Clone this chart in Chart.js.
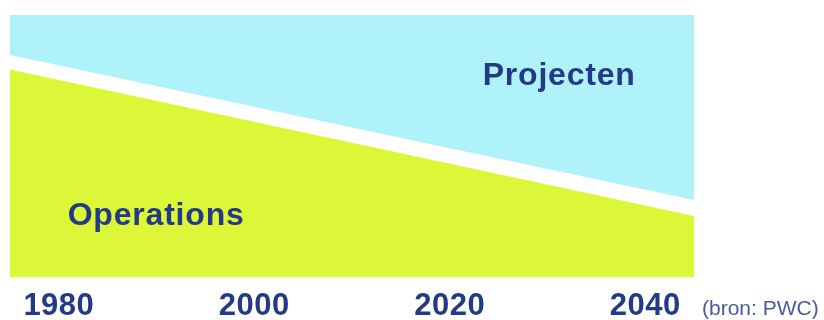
<!DOCTYPE html>
<html>
<head>
<meta charset="utf-8">
<script src="https://cdn.jsdelivr.net/npm/chart.js"></script>
<style>
  body { margin: 0; background: #fff; }
</style>
</head>
<body>
<canvas id="shareChart" width="824" height="320"></canvas>
<script>
// Years at the edges of the plot and the ticks shown below it
const years = [1975, 2045];
const tickYears = [1980, 2000, 2020, 2040];

// Share of work (0..1): lower edge of the projects band, top of operations
const projectenEdge = [0.847, 0.294];
const operationsTop = [0.792, 0.233];

// Where the two area names sit (year, share)
const projectenLabel = { text: "Projecten", x: 2031.2, y: 0.733 };
const operationsLabel = { text: "Operations", x: 1980.9, y: 0.198 };
const sourceNote = "(bron: PWC)";

const navy = "#233a87";

// Draw year labels, area names and the source note
const labelPlugin = {
    id: "labels",
    afterDraw(chart) {
        const ctx = chart.ctx;
        const xs = chart.scales.x;
        const ys = chart.scales.y;
        const base = chart.chartArea.bottom + 38;
        ctx.save();
        ctx.fillStyle = navy;
        ctx.textBaseline = "alphabetic";
        ctx.letterSpacing = "0.5px";
        ctx.font = "bold 31px 'Liberation Sans', Arial, sans-serif";
        ctx.textAlign = "center";
        tickYears.forEach((yr) => {
            ctx.fillText(String(yr), xs.getPixelForValue(yr), base);
        });

        ctx.letterSpacing = "0.8px";
        ctx.font = "bold 32px 'Liberation Sans', Arial, sans-serif";
        ctx.textAlign = "center";
        ctx.fillText(projectenLabel.text, xs.getPixelForValue(projectenLabel.x), ys.getPixelForValue(projectenLabel.y));
        ctx.textAlign = "left";
        ctx.fillText(operationsLabel.text, xs.getPixelForValue(operationsLabel.x), ys.getPixelForValue(operationsLabel.y));

        ctx.letterSpacing = "0px";
        ctx.fillStyle = "#4b5a9c";
        ctx.font = "21px 'Liberation Sans', Arial, sans-serif";
        ctx.textAlign = "left";
        ctx.fillText(sourceNote, chart.chartArea.right + 8, base);
        ctx.restore();
    },
};

const ctx = document.getElementById("shareChart").getContext("2d");
new Chart(ctx, {
    type: "line",
    data: {
        datasets: [
            {
                label: "Projecten",
                data: years.map((x, i) => ({ x, y: projectenEdge[i] })),
                fill: "end",
                backgroundColor: "#aff2fa",
                borderWidth: 0,
                pointRadius: 0,
            },
            {
                label: "Operations",
                data: years.map((x, i) => ({ x, y: operationsTop[i] })),
                fill: "origin",
                backgroundColor: "#dcf737",
                borderWidth: 0,
                pointRadius: 0,
            },
        ],
    },
    options: {
        responsive: false,
        animation: false,
        layout: { padding: { left: 10, top: 15, right: 130, bottom: 43 } },
        plugins: {
            legend: { display: false },
            tooltip: { enabled: false },
        },
        scales: {
            x: { type: "linear", min: years[0], max: years[1], display: false },
            y: { min: 0, max: 1, display: false },
        },
    },
    plugins: [labelPlugin],
});
</script>
</body>
</html>
